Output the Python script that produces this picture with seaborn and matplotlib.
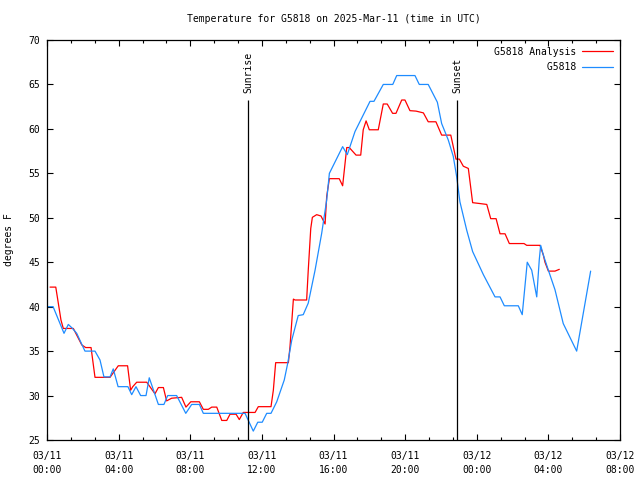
import matplotlib
matplotlib.use('Agg')
from matplotlib import pyplot as plt
from matplotlib.ticker import MultipleLocator
import seaborn as sns
import pandas as pd

# hours since 2025-03-11 00:00 UTC
obs_hours = [0.00, 0.34, 0.95, 1.19, 1.40, 1.66, 2.12, 2.68, 2.96, 3.18, 3.52, 3.70, 3.97, 4.52,
             4.73, 4.97, 5.23, 5.53, 5.71, 6.22, 6.53, 6.74, 7.24, 7.75, 8.08, 8.51, 8.73, 11.06,
             11.52, 11.77, 12.02, 12.27, 12.51, 12.83, 13.25, 13.44, 13.67, 14.03, 14.31, 14.59,
             14.97, 15.34, 15.62, 15.77, 16.51, 16.77, 17.20, 18.04, 18.26, 18.78, 19.31, 19.53,
             20.55, 20.79, 21.29, 21.80, 22.04, 22.41, 22.69, 22.88, 23.06, 23.44, 23.77, 24.37,
             25.02, 25.30, 25.54, 26.32, 26.54, 26.82, 27.07, 27.35, 27.49, 27.57, 27.72, 28.00,
             28.37, 28.83, 29.58, 30.36]
obs_temp = [40.0, 40.0, 37.0, 38.0, 37.6, 37.0, 35.0, 35.0, 34.0, 32.1, 32.1, 33.0, 31.0, 31.0,
            30.1, 31.0, 30.0, 30.0, 32.0, 29.0, 29.0, 30.0, 30.0, 28.0, 29.0, 29.0, 28.0, 28.0,
            26.0, 27.0, 27.0, 28.0, 28.0, 29.3, 31.75, 33.6, 36.25, 39.0, 39.1, 40.4,
            44.1, 48.25, 52.0, 55.0, 58.0, 57.1, 59.7, 63.1, 63.1, 65.0, 65.0, 66.0,
            66.0, 65.0, 65.0, 63.0, 60.6, 58.75, 56.9, 54.6, 51.8, 48.6, 46.2, 43.6,
            41.1, 41.1, 40.1, 40.1, 39.1, 45.0, 44.1, 41.1, 45.25, 46.9, 45.8, 44.1,
            41.9, 38.1, 35.0, 44.0]

ana_hours = [0.17, 0.49, 0.78, 0.91, 1.47, 1.94, 2.16, 2.46, 2.68, 3.52, 3.98, 4.50, 4.67, 4.79,
             5.01, 5.57, 6.03, 6.22, 6.50, 6.68, 6.96, 7.52, 7.76, 8.03, 8.51, 8.73, 9.01, 9.20,
             9.48, 9.76, 10.04, 10.22, 10.56, 10.74, 10.96, 11.62, 11.80, 12.51, 12.64, 12.77,
             13.48, 13.57, 13.67, 13.76, 13.85, 14.50, 14.59, 14.73, 14.82, 15.06, 15.30, 15.53,
             15.62, 15.77, 16.32, 16.51, 16.74, 16.88, 17.26, 17.52, 17.66, 17.82, 18.00, 18.50,
             18.78, 19.00, 19.30, 19.49, 19.81, 19.99, 20.27, 20.61, 21.02, 21.29, 21.72, 22.04,
             22.55, 22.84, 23.03, 23.25, 23.53, 23.77, 24.18, 24.56, 24.78, 25.08, 25.30, 25.58,
             25.82, 26.64, 26.79, 27.53, 27.72, 27.81, 28.00, 28.37, 28.61]
ana_temp = [42.2, 42.2, 38.5, 37.55, 37.55, 35.7, 35.4, 35.4, 32.05, 32.05, 33.35, 33.35, 30.6, 31.0,
            31.5, 31.5, 30.2, 30.9, 30.9, 29.4, 29.7, 29.8, 28.7, 29.3, 29.3, 28.45, 28.45, 28.7,
            28.7, 27.2, 27.2, 27.9, 27.9, 27.3, 28.1, 28.1, 28.75, 28.75, 30.6, 33.7,
            33.7, 35.5, 38.3, 40.85, 40.75, 40.75, 44.1, 48.8, 50.05, 50.35, 50.2, 49.3,
            52.4, 54.4, 54.4, 53.6, 57.9, 57.9, 57.05, 57.05, 59.9, 60.9, 59.9, 59.9,
            62.8, 62.8, 61.75, 61.75, 63.25, 63.25, 62.05, 62.0, 61.8, 60.8, 60.8, 59.3,
            59.3, 56.6, 56.6, 55.8, 55.55, 51.7, 51.6, 51.5, 49.9, 49.9, 48.2, 48.2,
            47.1, 47.1, 46.9, 46.9, 45.8, 45.0, 44.0, 44.0, 44.2]

sun_hours = [11.23, 22.90]
sun_labels = ['Sunrise', 'Sunset']

tick_hours = [0, 4, 8, 12, 16, 20, 24, 28, 32]
tick_labels = ['03/11\n00:00', '03/11\n04:00', '03/11\n08:00', '03/11\n12:00', '03/11\n16:00',
               '03/11\n20:00', '03/12\n00:00', '03/12\n04:00', '03/12\n08:00']

ana = pd.DataFrame({'hours': ana_hours, 'temp': ana_temp})
obs = pd.DataFrame({'hours': obs_hours, 'temp': obs_temp})

sns.set_style('ticks')
plt.rcParams['font.family'] = ['DejaVu Sans Mono']
plt.rcParams['font.size'] = 7
for key in ['text.color', 'axes.labelcolor', 'xtick.color', 'ytick.color', 'axes.edgecolor']:
    plt.rcParams[key] = 'black'

fig, ax = plt.subplots(figsize=(6.4, 4.8), dpi=100)
fig.subplots_adjust(left=47 / 640, right=620 / 640, top=1 - 40 / 480, bottom=1 - 440 / 480)

# monospace font: pad the short label so the legend text is right-aligned like gnuplot
names = ['G5818 Analysis', 'G5818']
width = max(len(n) for n in names)

sns.lineplot(data=ana, x='hours', y='temp', ax=ax, color='#ff0000', lw=0.9,
             sort=False, estimator=None, label=names[0].rjust(width))
sns.lineplot(data=obs, x='hours', y='temp', ax=ax, color='#1e8cff', lw=0.9,
             sort=False, estimator=None, label=names[1].rjust(width))

for h, lab in zip(sun_hours, sun_labels):
    ax.vlines(h, 25, 63.3, color='black', lw=0.9)
    ax.text(h, 64.0, lab, rotation=90, ha='center', va='bottom', fontsize=7)

ax.set_xlim(0, 32)
ax.set_ylim(25, 70)
ax.set_xticks(tick_hours)
ax.set_xticklabels(tick_labels, linespacing=1.5)
ax.xaxis.set_minor_locator(MultipleLocator(4 / 3))
ax.yaxis.set_major_locator(MultipleLocator(5))
ax.tick_params(which='both', direction='in', top=True, right=True, width=0.8)
ax.tick_params(which='major', length=4.5)
ax.tick_params(which='minor', length=2.5)
ax.tick_params(axis='x', which='major', pad=8)
ax.tick_params(axis='y', which='major', pad=5)
for s in ax.spines.values():
    s.set_linewidth(0.9)

ax.set_xlabel('')
ax.set_ylabel('degrees F', labelpad=10)
ax.set_title('Temperature for G5818 on 2025-Mar-11 (time in UTC)', pad=13, fontsize=7)

ax.legend(loc='upper right', frameon=False, markerfirst=False, handlelength=3.2,
          handletextpad=0.6, labelspacing=0.55, borderaxespad=0.3, fontsize=7)

plt.savefig('out.png', dpi=100)
